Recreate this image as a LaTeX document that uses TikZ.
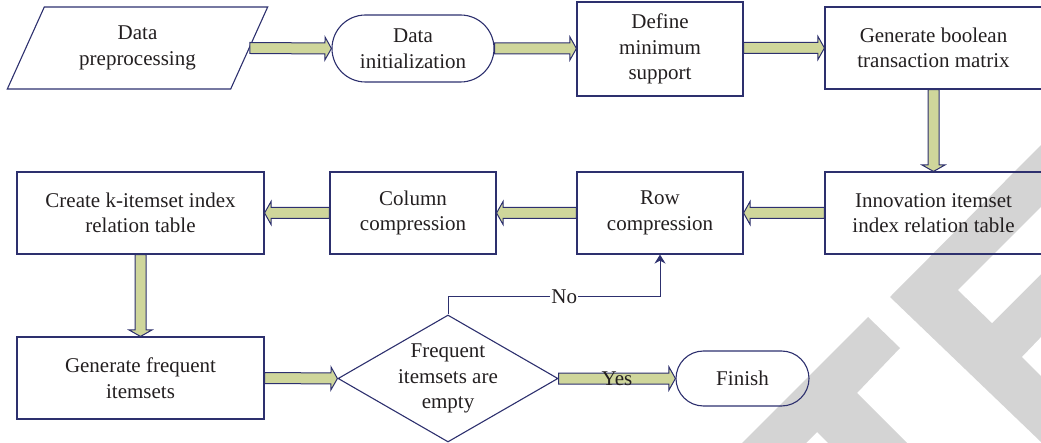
\documentclass[tikz,border=0pt]{standalone}
\usepackage{fontspec}
\setmainfont{Liberation Serif}
\usetikzlibrary{shapes.geometric,shapes.misc,calc,arrows.meta}
\definecolor{navy}{RGB}{45,48,110}
\definecolor{olivefill}{RGB}{207,214,155}
\definecolor{wmgray}{RGB}{212,212,212}
\definecolor{ink}{RGB}{35,31,32}
\newcommand{\flowarrow}[2]{%
  \coordinate (fa-s) at (#1);
  \coordinate (fa-e) at (#2);
  \coordinate (fa-h) at ($(fa-e)!6.5pt!(fa-s)$);
  \filldraw[blockarrow]
    ($(fa-s)!5.5pt!90:(fa-e)$) -- ($(fa-h)!5.5pt!90:(fa-e)$) --
    ($(fa-h)!11.5pt!90:(fa-e)$) -- (fa-e) --
    ($(fa-h)!11.5pt!-90:(fa-e)$) -- ($(fa-h)!5.5pt!-90:(fa-e)$) --
    ($(fa-s)!5.5pt!-90:(fa-e)$) -- cycle;
}
\begin{document}
\begin{tikzpicture}[x=1pt,y=-1pt,
  font=\fontsize{21}{25.5}\selectfont,
  box/.style={draw=navy, line width=1.1pt, text=ink, align=center, inner sep=2pt, rectangle},
  stadium/.style={box, rounded rectangle},
  decision/.style={box, diamond, shape aspect=1.73, inner sep=-4pt},
  blockarrow/.style={draw=navy, fill=olivefill, line width=1pt, line join=miter},
  link/.style={draw=navy, line width=1pt, -{Stealth[length=9pt,width=11pt]}},
  watermark/.style={fill=wmgray}]
\useasboundingbox (0,0) rectangle (1041,443);
\clip (0,0) rectangle (1041,443);

% watermark
\fill[watermark] (1041,145) -- (890,297) -- (1041,442) -- (1048,442) -- (1048,145) -- cycle;
\fill[white] (958,290) -- (992,323) -- (1045,270) -- (1045,203) -- cycle;
\fill[white] (1045,333) -- (1022,357) -- (1045,380) -- cycle;
\fill[watermark] (868,317) -- (900,348) -- (857,393) -- (910,446) -- (831,446) -- (817,432) -- (803,446) -- (739,446) -- cycle;

% nodes
\node[box, trapezium, trapezium left angle=63.4, trapezium right angle=116.6,
      trapezium stretches=true, minimum width=261pt, minimum height=82pt] (pre) at (137.5,48) {Data\\preprocessing};
\node[stadium, minimum width=166pt, minimum height=67pt] (init) at (413,48.5) {Data\\initialization};
\node[box, minimum width=166pt, minimum height=94pt] (def) at (660,49) {Define\\minimum\\support};
\node[box, minimum width=217pt, minimum height=82pt] (gen) at (933.5,48) {Generate boolean\\transaction matrix};
\node[box, minimum width=217pt, minimum height=82pt] (inn) at (933.5,213) {Innovation itemset\\index relation table};
\node[box, minimum width=166pt, minimum height=82pt] (row) at (660,213) {Row\\compression};
\node[box, minimum width=166pt, minimum height=82pt] (col) at (413,213) {Column\\compression};
\node[box, minimum width=247pt, minimum height=82pt] (kset) at (140.5,213) {Create k-itemset index\\relation table};
\node[box, minimum width=247pt, minimum height=82pt] (freq) at (140.5,378) {Generate frequent\\itemsets};
\node[decision, minimum width=220pt, minimum height=127pt] (dec) at (448,378.5) {Frequent\\itemsets are\\empty};
\node[stadium, minimum width=137pt, minimum height=55pt] (fin) at (742.5,378.5) {Finish};

% block arrows
\flowarrow{pre.east}{init.west}
\flowarrow{init.east}{init.east -| def.west}
\flowarrow{def.east |- gen.west}{gen.west}
\flowarrow{gen.south}{inn.north}
\flowarrow{inn.west}{row.east}
\flowarrow{row.west}{col.east}
\flowarrow{col.west}{kset.east}
\flowarrow{kset.south}{freq.north}
\flowarrow{freq.east}{dec.west}
\flowarrow{dec.east}{fin.west}
\node[text=ink] (yes) at ($(dec.east)!0.5!(fin.west)$) {Yes};

% No branch
\draw[link] (dec.north) |- node[pos=0.774, fill=white, inner sep=1pt, text=ink] (no) {No} ($(row.south)+(0,42)$) -- (row.south);
\end{tikzpicture}
\end{document}
